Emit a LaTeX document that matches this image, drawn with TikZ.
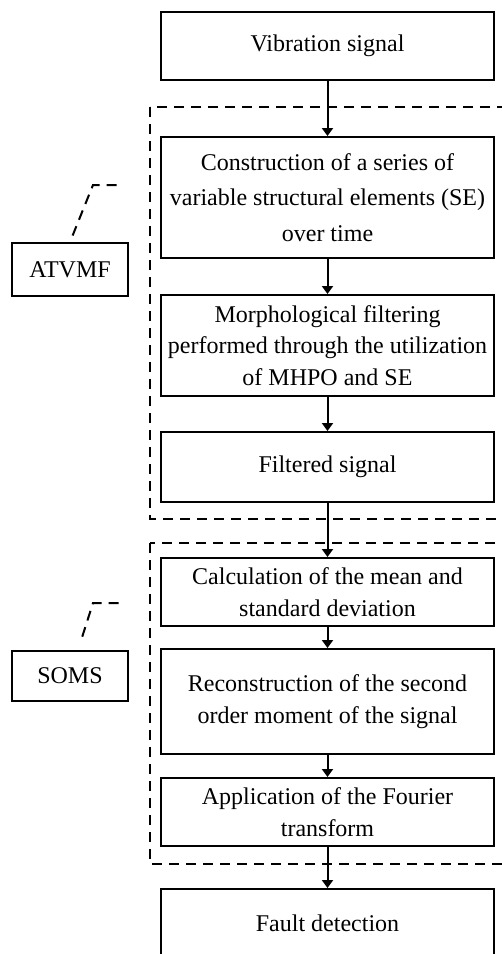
\documentclass[tikz,border=0pt]{standalone}
\usepackage{fontspec}
\setmainfont{Liberation Serif}
\usetikzlibrary{arrows.meta}

\begin{document}
\begin{tikzpicture}[x=0.5pt, y=-0.5pt, font=\fontsize{12}{15.75}\selectfont]

	% ---------- Frame ----------
	\useasboundingbox (0,0) rectangle (502,954);
	\clip (0,0) rectangle (502,954);

	% ---------- Helper styles ----------
	\tikzset{
		blk/.style={draw, line width=1pt, minimum width=166.5pt, align=center, inner sep=2pt},
		tag/.style={draw, line width=1pt, minimum width=58pt, minimum height=26.5pt},
		group/.style={draw, line width=1pt, dash pattern=on 5pt off 3.5pt},
		flow/.style={-{Triangle[length=4pt,width=5.5pt]}, line width=1pt}
	}

	% ---------- Processing chain ----------
	\node[blk, minimum height=34pt] (vib) at (327.5,46) {Vibration signal};
	\node[blk, minimum height=60.5pt, font=\fontsize{12}{17.75}\selectfont] (cons) at (327.5,197.5)
		{Construction of a series of\\variable structural elements (SE)\\over time};
	\node[blk, minimum height=50.5pt] (morph) at (327.5,345.5)
		{Morphological filtering\\performed through the utilization\\of MHPO and SE};
	\node[blk, minimum height=35pt] (filt) at (327.5,467) {Filtered signal};
	\node[blk, minimum height=34pt] (calc) at (327.5,592) {Calculation of the mean and\\standard deviation};
	\node[blk, minimum height=52.5pt] (recon) at (327.5,701.5)
		{Reconstruction of the second\\order moment of the signal};
	\node[blk, minimum height=34pt] (four) at (327.5,812) {Application of the Fourier\\transform};
	\node[blk, minimum height=34pt] (fault) at (327.5,923) {Fault detection};

	% ---------- Arrows ----------
	\foreach \a/\b in {vib/cons, cons/morph, morph/filt, filt/calc, calc/recon, recon/four, four/fault} {
		\draw[flow] (\a.south) -- (\b.north);
	}

	% ---------- Method groups (dashed) ----------
	\draw[group] (150,107) rectangle (520,519);
	\draw[group] (150,543) rectangle (520,864);

	% ---------- Group labels ----------
	\node[tag] (atvmf) at (70,269.5) {ATVMF};
	\node[tag, minimum height=25pt] (soms) at (70,676) {SOMS};

	\coordinate (atvmf-bend) at (93,185);
	\coordinate (atvmf-end) at (120,185);
	\coordinate (soms-bend) at (93,603);
	\coordinate (soms-end) at (120,603);

	\draw[group, shorten <=3.5pt] (atvmf.north) -- (atvmf-bend) -- (atvmf-end);
	\draw[group, shorten <=7pt] ([xshift=4pt]soms.north) -- (soms-bend) -- (soms-end);

\end{tikzpicture}
\end{document}
